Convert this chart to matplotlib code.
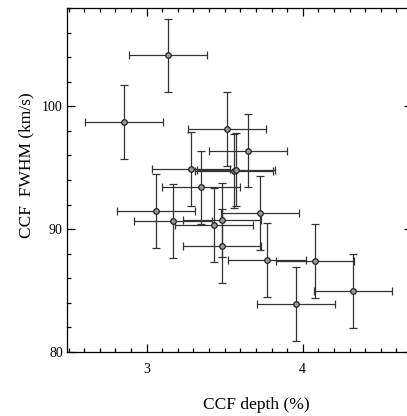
import matplotlib
matplotlib.use('Agg')
import matplotlib.pyplot as plt
from matplotlib.ticker import MultipleLocator

# CCF depth (%) and CCF FWHM (km/s)
depth = [3.139, 2.853, 3.517, 3.652, 3.284, 3.558, 3.571, 3.350, 3.058,
         3.169, 3.432, 3.483, 3.483, 3.724, 3.771, 4.077, 4.325, 3.955]
fwhm = [104.15, 98.7, 98.13, 96.4, 94.88, 94.76, 94.85, 93.4, 91.46,
        90.65, 90.33, 90.73, 88.6, 91.3, 87.48, 87.4, 84.96, 83.9]
depth_err = [0.25, 0.25, 0.25, 0.25, 0.25, 0.25, 0.25, 0.25, 0.25,
             0.25, 0.25, 0.25, 0.25, 0.25, 0.25, 0.25, 0.25, 0.25]
fwhm_err = [2.95, 3.0, 3.0, 3.0, 3.0, 3.0, 3.0, 3.0, 3.0,
            3.0, 3.0, 3.0, 3.0, 3.0, 3.0, 3.0, 3.0, 3.0]

plt.rcParams['font.family'] = ['Liberation Serif', 'DejaVu Serif']

fig = plt.figure(figsize=(4.07, 4.16), dpi=100)
ax = fig.add_axes([67/407, 64/416, 345/407, 344/416])

ax.errorbar(depth, fwhm, xerr=depth_err, yerr=fwhm_err, fmt='o',
            color='#222222', ecolor='#333333', elinewidth=0.9, capsize=3,
            capthick=0.9, ms=4, mfc='#999999', mec='#222222', mew=0.9)

ax.set_xlim(2.49, 4.70)
ax.set_ylim(80, 108)
ax.xaxis.set_major_locator(MultipleLocator(1))
ax.xaxis.set_minor_locator(MultipleLocator(0.1))
ax.yaxis.set_major_locator(MultipleLocator(10))
ax.yaxis.set_minor_locator(MultipleLocator(2))
ax.tick_params(which='both', direction='in', top=True, right=True,
               labelsize=10, width=0.9)
ax.tick_params(which='major', length=5.5)
ax.tick_params(which='minor', length=3)
ax.tick_params(axis='x', which='major', pad=8)
ax.tick_params(axis='y', which='major', pad=3)
for s in ax.spines.values():
    s.set_linewidth(0.9)

ax.set_xlabel('CCF depth (%)', fontsize=12.5)
ax.set_ylabel('CCF  FWHM (km/s)', fontsize=12.5)
ax.xaxis.set_label_coords(0.548, -0.13)
ax.yaxis.set_label_coords(-0.095, 0.544)

fig.savefig('out.png', dpi=100)
